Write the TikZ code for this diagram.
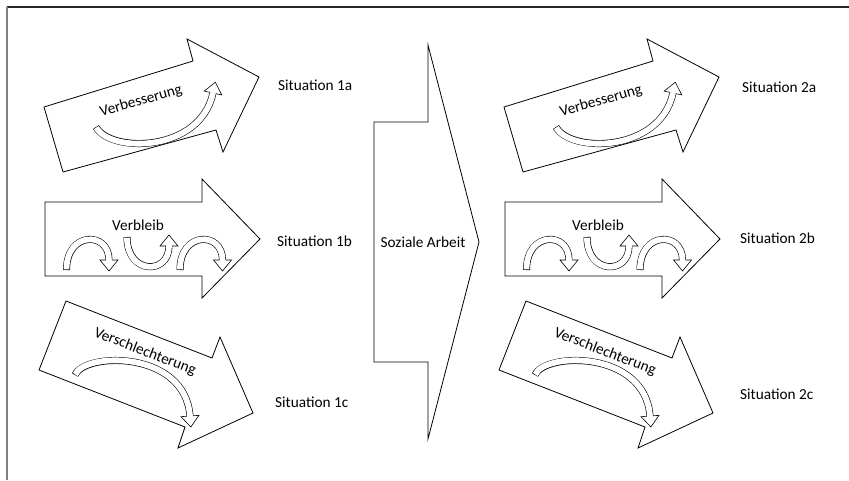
\documentclass[tikz,border=0pt]{standalone}
\usepackage{fontspec}
\setmainfont{Carlito}
\usetikzlibrary{calc}

\tikzset{
  bigarrow/.style={draw=black, line width=0.8pt, fill=white, line join=miter},
  bandout/.style={line width=7pt, black, line cap=butt},
  bandin/.style={line width=5.8pt, white, line cap=butt, shorten <=0.6pt},
  headline/.style={draw=black, line width=0.6pt, line join=miter},
  lbl/.style={font=\fontsize{15.3}{18}\selectfont, inner sep=0pt},
  sitlbl/.style={lbl, anchor=west},
}

\newcommand\bendarrow[4]{%
  \coordinate (hS) at #1; \coordinate (hA) at #2; \coordinate (hB) at #3; \coordinate (hE) at #4;
  \draw[bandout] (hS) .. controls (hA) and (hB) .. (hE);
  \draw[bandin] (hS) .. controls (hA) and (hB) .. (hE);
  \fill[white] ($(hE)!9pt!90:(hB)$) -- ($(hE)!11pt!180:(hB)$) -- ($(hE)!9pt!-90:(hB)$) -- cycle;
  \draw[headline] ($(hE)!3.2pt!90:(hB)$) -- ($(hE)!9pt!90:(hB)$) -- ($(hE)!11pt!180:(hB)$)
     -- ($(hE)!9pt!-90:(hB)$) -- ($(hE)!3.2pt!-90:(hB)$);
}

\begin{document}
\begin{tikzpicture}[x=1pt,y=-1pt]
\useasboundingbox (0,0) rectangle (849,480);
\fill[white] (0,0) rectangle (849,480);

% frame (top and left edges)
\draw[black!85, line width=1.3pt] (6.7,7) -- (849,7);
\draw[black!50, line width=1.8pt] (6.7,7) -- (6.7,480);

% central arrow
\draw[bigarrow] (374,122) -- (428,122) -- (428,45) -- (479,242) -- (428,439) -- (428,362) -- (374,362) -- cycle;
\node[lbl] (sozial) at (423,242) {Soziale Arbeit};

\foreach \c/\dx in {1/0,2/460}{
\begin{scope}[shift={(\dx,0)}]
  % a: improvement
  \draw[bigarrow] (44,107) -- (193,61) -- (187,39) -- (259,77) -- (223,152) -- (216,130) -- (63,172) -- cycle;
  \bendarrow{(96,127)}{(110,153)}{(200,153)}{(213,93)}
  \node[lbl, rotate=16] (verb\c) at (141,101) {Verbesserung};
  % b: staying
  \draw[bigarrow] (45,202) -- (202,202) -- (202,179) -- (260,239) -- (202,298) -- (202,276) -- (45,276) -- cycle;
  \bendarrow{(66.5,270)}{(66.5,231)}{(109,231)}{(109,260)}
  \bendarrow{(127,237)}{(127,275)}{(169,275)}{(169,246)}
  \bendarrow{(180,270)}{(180,231)}{(222.5,231)}{(222.5,260)}
  \node[lbl] (bleib\c) at (138,225) {Verbleib};
  % c: deterioration
  \draw[bigarrow] (66,301) -- (212,358) -- (220,337) -- (253,413) -- (178,448) -- (185,427) -- (39,370) -- cycle;
  \bendarrow{(75,375)}{(85,352)}{(185,350)}{(190,416)}
  \node[lbl, rotate=-21] (schl\c) at (145,352) {Verschlechterung};
\end{scope}
}

\node[sitlbl] (s1a) at (278,85) {Situation 1a};
\node[sitlbl] (s1b) at (277,241) {Situation 1b};
\node[sitlbl] (s1c) at (275,402) {Situation 1c};
\node[sitlbl] (s2a) at (742,87) {Situation 2a};
\node[sitlbl] (s2b) at (740,238) {Situation 2b};
\node[sitlbl] (s2c) at (740,394) {Situation 2c};
\end{tikzpicture}
\end{document}
